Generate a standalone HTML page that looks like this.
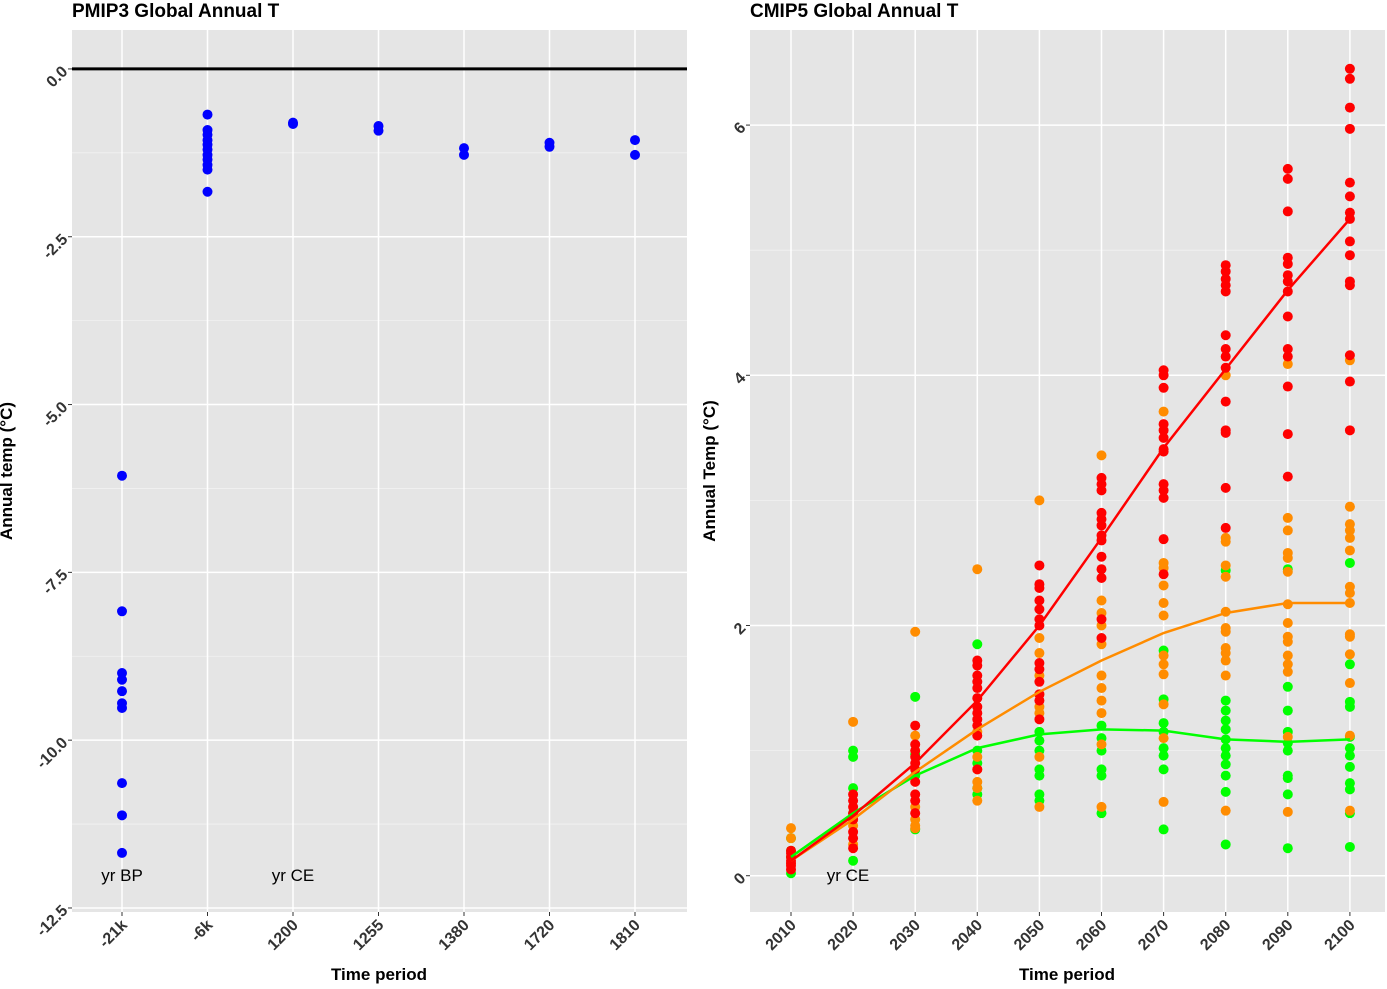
<!DOCTYPE html>
<html><head><meta charset="utf-8"><style>
body{margin:0;background:#fff;font-family:"Liberation Sans",Arial,sans-serif}
svg text{font-family:"Liberation Sans",Arial,sans-serif}
</style></head><body>
<svg id="c" width="1387" height="984" xmlns="http://www.w3.org/2000/svg"></svg>
<script>
// ---------- PMIP3 data ----------
const pmCats = ["-21k","-6k","1200","1255","1380","1720","1810"];
const pmVals = [
 [-6.06,-8.08,-9.0,-9.1,-9.27,-9.45,-9.52,-10.64,-11.12,-11.68],
 [-0.68,-0.91,-0.98,-1.06,-1.13,-1.2,-1.28,-1.35,-1.43,-1.5,-1.83],
 [-0.8,-0.82],
 [-0.85,-0.92],
 [-1.18,-1.28],
 [-1.1,-1.16],
 [-1.06,-1.28]
];
const pmTicks = [0,-2.5,-5,-7.5,-10,-12.5];
const pmTickLabels = ["0.0","-2.5","-5.0","-7.5","-10.0","-12.5"];
// ---------- CMIP5 data ----------
const cmCats = ["2010","2020","2030","2040","2050","2060","2070","2080","2090","2100"];
const greenPts = [
 [0.02,0.3,0.2,0.15],[1.0,0.95,0.7,0.12,0.5],[1.43,0.97,0.37,0.8],[1.85,0.65,0.7,1.0,0.9],
 [1.15,1.08,1.0,0.85,0.8,0.65,0.6],[1.2,1.1,1.0,0.85,0.8,0.5],
 [1.8,1.41,1.22,1.15,1.02,0.96,0.85,0.37],[2.44,1.4,1.32,1.24,1.17,1.09,1.02,0.96,0.89,0.8,0.67,0.25],
 [2.45,1.51,1.32,1.15,1.06,1.0,0.8,0.78,0.65,0.22],[2.5,1.69,1.39,1.35,1.11,1.02,0.96,0.87,0.74,0.69,0.5,0.23]
];
const orangePts = [
 [0.38,0.3,0.1],[1.23,0.4,0.25,0.45],[1.95,1.12,0.55,0.45,0.4,0.38],[2.45,0.95,0.75,0.7,0.6,0.85,1.15],
 [3.0,1.9,1.78,1.6,1.45,1.35,1.3,0.95,0.55],[3.36,2.2,2.1,2.0,1.85,1.6,1.5,1.4,1.3,1.05,0.55],
 [3.71,2.5,2.46,2.32,2.18,2.08,1.76,1.69,1.61,1.37,1.1,0.59],
 [4.0,2.7,2.67,2.48,2.39,2.11,1.98,1.95,1.82,1.78,1.72,1.6,0.52],
 [4.09,2.86,2.76,2.58,2.54,2.43,2.17,2.02,1.91,1.87,1.76,1.69,1.63,1.11,0.51],
 [4.12,2.95,2.81,2.76,2.7,2.6,2.31,2.26,2.18,1.93,1.91,1.77,1.54,1.12,0.52]
];
const redPts = [
 [0.05,0.08,0.1,0.12,0.15,0.18,0.2],[0.65,0.6,0.55,0.5,0.45,0.35,0.3,0.22],
 [1.2,1.05,1.0,0.95,0.9,0.85,0.75,0.65,0.6,0.5],
 [1.72,1.68,1.6,1.55,1.5,1.42,1.35,1.3,1.25,1.2,1.12,0.85],
 [2.48,2.33,2.3,2.2,2.13,2.05,2.0,1.7,1.65,1.55,1.45,1.4,1.25],
 [3.18,3.13,3.08,2.9,2.85,2.8,2.72,2.68,2.55,2.45,2.38,2.05,1.9],
 [4.04,4.0,3.9,3.61,3.56,3.5,3.41,3.39,3.13,3.08,3.02,2.69,2.41],
 [4.88,4.83,4.77,4.72,4.67,4.32,4.21,4.15,4.06,3.79,3.56,3.54,3.1,2.78],
 [5.65,5.57,5.31,4.94,4.89,4.8,4.75,4.67,4.47,4.21,4.15,3.91,3.53,3.19],
 [6.45,6.37,6.14,5.97,5.54,5.43,5.3,5.25,5.07,4.96,4.75,4.72,4.16,3.95,3.56]
];
const redLine = [0.12,0.48,0.9,1.4,2.0,2.7,3.42,4.05,4.68,5.25];
const orangeLine = [0.12,0.45,0.83,1.17,1.47,1.72,1.94,2.1,2.18,2.18];
const greenLine = [0.15,0.5,0.8,1.02,1.13,1.17,1.16,1.09,1.07,1.09];
const cmTicks = [0,2,4,6];
const cmTickLabels = ["0","2","4","6"];

const svg = document.getElementById('c');
const NS = "http://www.w3.org/2000/svg";
function mk(tag, attrs, parent){const e=document.createElementNS(NS,tag);for(const k in attrs)e.setAttribute(k,attrs[k]);(parent||svg).appendChild(e);return e;}

function panel(cfg){
  const g = mk('g',{});
  
  
  const {x0,x1,y0,y1,vmin,vmax,cats,xFirst,xStep} = cfg;
  const yS = v => y1 - (v - vmin)/(vmax - vmin)*(y1 - y0);
  const xS = i => xFirst + i*xStep;
  const bg = mk('rect',{x:x0,y:y0,width:x1-x0,height:y1-y0,fill:'#e5e5e5'},g);
  
  
  cfg.minor.forEach(v=>{mk('line',{x1:x0,x2:x1,y1:yS(v),y2:yS(v),stroke:'#f2f2f2','stroke-width':0.8},g);});
  cfg.ticks.forEach(v=>{mk('line',{x1:x0,x2:x1,y1:yS(v),y2:yS(v),stroke:'#fff','stroke-width':1.5},g);});
  cats.forEach((c,i)=>{mk('line',{x1:xS(i),x2:xS(i),y1:y0,y2:y1,stroke:'#fff','stroke-width':1.5},g);});
  cfg.ticks.forEach((v,i)=>{
    const y=yS(v);
    mk('line',{x1:x0-4,x2:x0,y1:y,y2:y,stroke:'#333','stroke-width':1},g);
    const t=mk('text',{x:x0-7,y:y+5,'text-anchor':'end','font-size':16,'font-weight':'bold',fill:'#333',transform:`rotate(-45 ${x0-7} ${y})`},g);
    t.textContent=cfg.tickLabels[i];
    
    
  });
  cats.forEach((c,i)=>{
    const x=xS(i);
    mk('line',{x1:x,x2:x,y1:y1,y2:y1+4,stroke:'#333','stroke-width':1},g);
    const t=mk('text',{x:x+6,y:y1+14,'text-anchor':'end','font-size':16,'font-weight':'bold',fill:'#333',transform:`rotate(-45 ${x+6} ${y1+14})`},g);
    t.textContent=c;
    
    
  });
  return {g,yS,xS};
}

const L = panel({name:'pmip3-panel',x0:72,x1:687,y0:30,y1:912,vmin:-12.56,vmax:0.58,cats:pmCats,xFirst:122,xStep:85.5,
  ticks:pmTicks,tickLabels:pmTickLabels,minor:[-1.25,-3.75,-6.25,-8.75,-11.25]});
const zl = mk('line',{x1:72,x2:687,y1:L.yS(0),y2:L.yS(0),stroke:'#000','stroke-width':3},L.g);


pmVals.forEach((arr,i)=>arr.forEach(v=>{
  const p=mk('circle',{cx:L.xS(i),cy:L.yS(v),r:5,fill:'#0000ff'},L.g);
  
  
}));

const R = panel({name:'cmip5-panel',x0:750,x1:1385,y0:30,y1:912,vmin:-0.29,vmax:6.76,cats:cmCats,xFirst:791,xStep:62.1,
  ticks:cmTicks,tickLabels:cmTickLabels,minor:[1,3,5]});
function pts(arr,col,name){arr.forEach((a,i)=>a.forEach(v=>{
  const p=mk('circle',{cx:R.xS(i),cy:R.yS(v),r:5,fill:col},R.g);
  
  
}));}
function line(arr,col,name){
  const pl=mk('polyline',{points:arr.map((v,i)=>R.xS(i)+','+R.yS(v)).join(' '),fill:'none',stroke:col,'stroke-width':2.5},R.g);
  
  
}
pts(greenPts,'#00ff00','rcp26-point');
pts(orangePts,'#ff8c00','rcp45-point');
pts(redPts,'#ff0000','rcp85-point');
line(greenLine,'#00ff00','rcp26-mean-line');
line(orangeLine,'#ff8c00','rcp45-mean-line');
line(redLine,'#ff0000','rcp85-mean-line');

function txt(x,y,s,attrs,name){const t=mk('text',Object.assign({x:x,y:y},attrs));t.textContent=s;
  
  return t;}
txt(72,17,'PMIP3 Global Annual T',{'font-size':19,'font-weight':'bold'},'left-title');
txt(750,17,'CMIP5 Global Annual T',{'font-size':19,'font-weight':'bold'},'right-title');
txt(379,980,'Time period',{'font-size':17,'font-weight':'bold','text-anchor':'middle'},'left-x-axis-title');
txt(1067,980,'Time period',{'font-size':17,'font-weight':'bold','text-anchor':'middle'},'right-x-axis-title');
txt(12,471,'Annual temp (°C)',{'font-size':17,'font-weight':'bold','text-anchor':'middle',transform:'rotate(-90 12 471)'},'left-y-axis-title');
txt(715,471,'Annual Temp (°C)',{'font-size':17,'font-weight':'bold','text-anchor':'middle',transform:'rotate(-90 715 471)'},'right-y-axis-title');
txt(122,881,'yr BP',{'font-size':17,'text-anchor':'middle'},'yr-bp-label');
txt(293,881,'yr CE',{'font-size':17,'text-anchor':'middle'},'yr-ce-label-left');
txt(848,881,'yr CE',{'font-size':17,'text-anchor':'middle'},'yr-ce-label-right');
</script>
</body></html>
